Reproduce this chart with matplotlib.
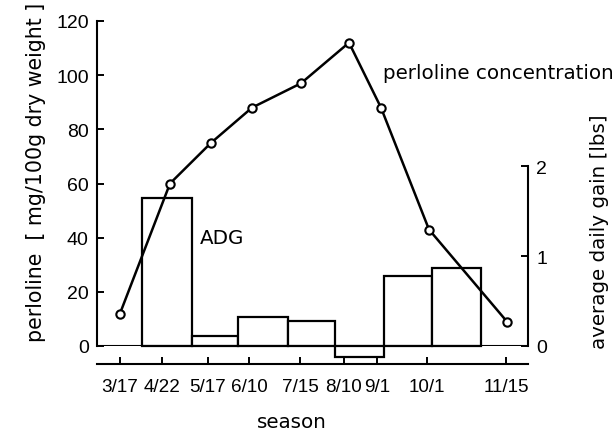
import matplotlib
matplotlib.use('Agg')
import matplotlib.pyplot as plt

# categories / tick labels
dates = ['3/17', '4/22', '5/17', '6/10', '7/15', '8/10', '9/1', '10/1', '11/15']
# positions of the dates along the (non-linear) season axis
date_pos = [23, 65, 111, 152, 203, 247, 280, 330, 409]
sample_pos = [23, 73, 114, 155, 204, 252, 284, 332, 410]
# perloline concentration (mg/100g dry weight)
perloline = [12, 60, 75, 88, 97, 112, 88, 43, 9]
# average daily gain bars (lbs)
bar_left = [45, 95, 141, 191, 238, 287, 335]
bar_width = [50, 46, 50, 47, 49, 48, 49]
adg = [1.64, 0.11, 0.32, 0.28, -0.12, 0.78, 0.87]

left_ticks = [0, 20, 40, 60, 80, 100, 120]
right_ticks = [0, 1, 2]

plt.rcParams['font.family'] = ['Liberation Sans', 'DejaVu Sans']
FS = 14.0      # y tick labels
XFS = 13.6     # x tick labels
LFS = 14.3     # axis labels / annotations
LFAM = ['DejaVu Sans']

fig = plt.figure(figsize=(6.15, 4.35), dpi=100)
ax = fig.add_axes([97 / 615, 1 - 347 / 435, 431 / 615, 325 / 435])
ax2 = ax.twinx()

# bars on right axis
ax2.bar(bar_left, adg, width=bar_width, align='edge', facecolor='white',
        edgecolor='black', linewidth=1.6, clip_on=False)
ax2.set_ylim(0, 325 / 90)
ax2.set_yticks(right_ticks)
ax2.set_yticklabels([str(t) for t in right_ticks])
for s in ['top', 'left', 'bottom']:
    ax2.spines[s].set_visible(False)
ax2.spines['right'].set_bounds(0, 2)
ax2.spines['right'].set_linewidth(1.5)
ax2.tick_params(axis='y', direction='in', length=5, width=1.4, pad=6,
                labelsize=FS)
ax2.set_ylabel('average daily gain [lbs]', fontsize=LFS, family=LFAM)
ax2.yaxis.set_label_coords(1.145, (347 - 232) / 325)

# line on left axis (drawn on top)
ax.set_zorder(ax2.get_zorder() + 1)
ax.patch.set_visible(False)
ax.plot(sample_pos, perloline, color='black', linewidth=1.8, marker='o',
        markersize=6, markerfacecolor='white', markeredgecolor='black',
        markeredgewidth=1.5, clip_on=False, zorder=5)
ax.axhline(0, color='black', linewidth=1.5, zorder=4)
ax.set_xlim(0, 431)
ax.set_ylim(0, 120)
ax.set_yticks(left_ticks)
ax.set_yticklabels([str(t) for t in left_ticks])
ax.set_xticks(date_pos)
ax.set_xticklabels(dates)
ax.spines['top'].set_visible(False)
ax.spines['right'].set_visible(False)
ax.spines['left'].set_bounds(0, 120)
ax.spines['left'].set_linewidth(1.5)
ax.spines['bottom'].set_position(('outward', 13))
ax.spines['bottom'].set_linewidth(1.5)
ax.tick_params(axis='y', direction='in', length=5, width=1.4, pad=6,
               labelsize=FS)
ax.tick_params(axis='x', direction='in', length=5, width=1.4, pad=10,
               labelsize=XFS)
ax.set_ylabel('perloline  [ mg/100g dry weight ]', fontsize=14.8, family=LFAM)
ax.yaxis.set_label_coords(-0.118, (347 - 172) / 325)
ax.set_xlabel('season', fontsize=LFS, family=LFAM)
ax.xaxis.set_label_coords((292 - 97) / 431, -(413 - 347) / 325)

ax.text(286, 101, 'perloline concentration', fontsize=LFS, family=LFAM,
        va='center', ha='left')
ax.text(103, 40, 'ADG', fontsize=LFS, family=LFAM, va='center', ha='left')

fig.savefig('out.png', dpi=100)
